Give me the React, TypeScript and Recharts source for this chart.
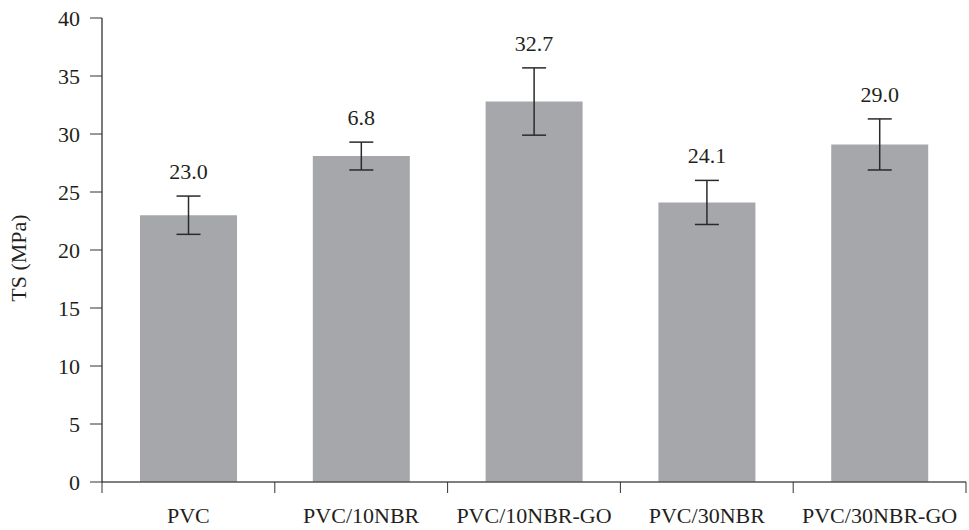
import { BarChart, Bar, XAxis, YAxis, ErrorBar, LabelList } from "recharts";

document.body.style.margin = "0";

const categories = ["PVC", "PVC/10NBR", "PVC/10NBR-GO", "PVC/30NBR", "PVC/30NBR-GO"];
const tsValues = [23.0, 28.1, 32.8, 24.1, 29.1];
const tsErrors = [1.65, 1.2, 2.9, 1.9, 2.2];
const valueLabels = ["23.0", "6.8", "32.7", "24.1", "29.0"];
const yTicks = [0, 5, 10, 15, 20, 25, 30, 35, 40];

const data = categories.map((name, i) => ({
  name,
  ts: tsValues[i],
  err: tsErrors[i],
  label: valueLabels[i],
}));

const FONT = "'Liberation Serif', 'Times New Roman', serif";
const TEXT = "#231f20";
const FS = 22;

const W = 969;
const H = 530;
const MARGIN = { top: 18, right: 3, left: 42, bottom: 0 };
const Y_AXIS_W = 60;
const BAND = (W - MARGIN.left - MARGIN.right - Y_AXIS_W) / categories.length;

const CategoryTick = ({ x, y, payload, index }: any) => {
  const left = x - BAND / 2;
  return (
    <g>
      <line x1={left} y1={y} x2={left} y2={y + 11} stroke="#333" strokeWidth={1} />
      {index === categories.length - 1 && (
        <line x1={x + BAND / 2} y1={y} x2={x + BAND / 2} y2={y + 11} stroke="#333" strokeWidth={1} />
      )}
      <text x={x} y={y + 41} textAnchor="middle" fontFamily={FONT} fontSize={FS} fill={TEXT}>
        {payload.value}
      </text>
    </g>
  );
};

const ValueLabel = ({ x, y, width, height, index }: any) => {
  const d = data[index];
  const errPx = (d.err * height) / d.ts;
  return (
    <text
      x={x + width / 2}
      y={y - errPx - 17}
      textAnchor="middle"
      fontFamily={FONT}
      fontSize={FS}
      fill={TEXT}
    >
      {d.label}
    </text>
  );
};

export default function App() {
  return (
    <div style={{ width: W, height: H, background: "#fff" }}>
      <BarChart width={W} height={H} data={data} margin={MARGIN} barCategoryGap="22%">
        <XAxis
          dataKey="name"
          tick={<CategoryTick />}
          tickLine={false}
          tickSize={0}
          tickMargin={0}
          axisLine={{ stroke: "#555", strokeWidth: 1.5 }}
          height={48}
          interval={0}
        />
        <YAxis
          domain={[0, 40]}
          ticks={yTicks}
          width={Y_AXIS_W}
          tickSize={12}
          tickMargin={10}
          tickLine={{ stroke: "#333" }}
          axisLine={{ stroke: "#222", strokeWidth: 1.2 }}
          tick={{ fontFamily: FONT, fontSize: FS, fill: TEXT }}
          label={{
            value: "TS (MPa)",
            angle: -90,
            position: "insideLeft",
            offset: -24,
            dy: 8,
            style: { fontFamily: FONT, fontSize: FS, fill: TEXT, textAnchor: "middle" },
          }}
        />
        <Bar dataKey="ts" fill="#a6a7ab" isAnimationActive={false}>
          <ErrorBar dataKey="err" width={12} stroke="#2a2a2a" strokeWidth={1.5} />
          <LabelList dataKey="label" content={<ValueLabel />} />
        </Bar>
      </BarChart>
    </div>
  );
}
